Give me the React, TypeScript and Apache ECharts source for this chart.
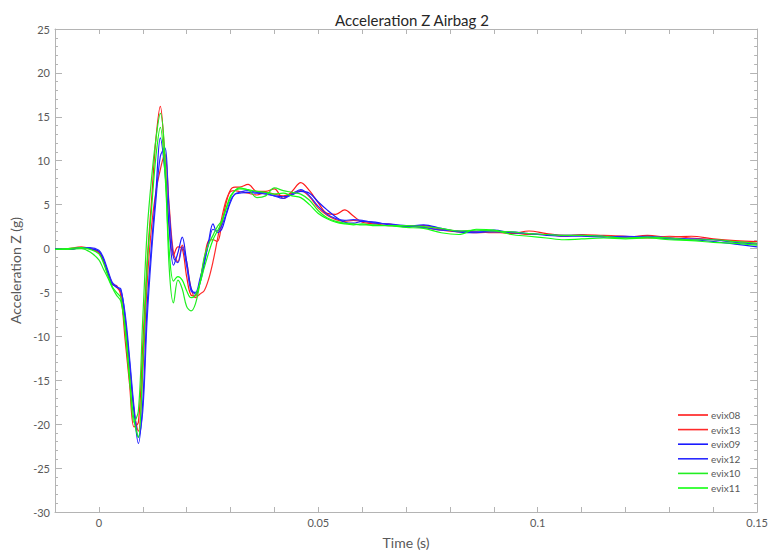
import React, { useEffect, useRef } from "react";
import * as echarts from "echarts";

const T = [-0.010, -0.007, -0.004, -0.002, 0.000, 0.001, 0.002, 0.003, 0.004, 0.005, 0.006, 0.007, 0.008, 0.009, 0.010, 0.011, 0.012, 0.013, 0.014, 0.015, 0.016, 0.017, 0.018, 0.019, 0.020, 0.021, 0.022, 0.023, 0.024, 0.025, 0.026, 0.027, 0.028, 0.029, 0.030, 0.031, 0.032, 0.034, 0.036, 0.038, 0.040, 0.042, 0.044, 0.046, 0.048, 0.050, 0.052, 0.054, 0.056, 0.058, 0.060, 0.063, 0.066, 0.070, 0.074, 0.078, 0.082, 0.086, 0.090, 0.094, 0.098, 0.102, 0.106, 0.110, 0.115, 0.120, 0.125, 0.130, 0.135, 0.140, 0.145, 0.150];

const evix08 = [-0.1, -0.1, 0.1, 0.0, -0.5, -1.4, -2.9, -4.1, -4.2, -5.4, -10.5, -15.5, -20.3, -19.8, -11, -1.5, 5.5, 12.5, 16.2, 10.5, 2.5, -0.8, 0.2, 0.0, -3.2, -5.3, -5.4, -3.8, -1.2, 0.9, 1.0, 0.8, 2.8, 5.2, 6.7, 7.0, 7.0, 7.3, 6.5, 6.5, 6.8, 5.7, 6.5, 7.5, 6.6, 5.2, 4.0, 3.9, 4.4, 3.7, 3.0, 2.8, 2.6, 2.6, 2.4, 2.1, 1.9, 1.8, 1.9, 1.7, 2.0, 1.7, 1.5, 1.5, 1.4, 1.3, 1.5, 1.3, 1.4, 1.1, 0.9, 0.8];
const evix13 = [-0.1, 0.0, 0.2, 0.0, -0.4, -1.2, -2.6, -3.9, -4.4, -5.0, -8.5, -13.5, -18.5, -20.8, -14, -4, 2.5, 6.5, 9.0, 10.8, 5.0, -0.5, -1.5, 0.4, -1.5, -4.5, -5.6, -5.2, -4.8, -3.5, -1.5, 1.0, 3.5, 5.5, 6.5, 6.6, 6.5, 6.3, 6.1, 6.4, 6.2, 6.0, 6.3, 6.6, 5.9, 4.6, 3.8, 3.3, 3.1, 3.2, 3.1, 2.9, 2.8, 2.5, 2.6, 2.2, 2.0, 1.9, 1.8, 1.8, 1.6, 1.6, 1.4, 1.6, 1.5, 1.4, 1.2, 1.4, 1.2, 1.0, 0.8, 0.6];
const evix09 = [-0.1, -0.1, 0.1, 0.0, -0.3, -1.2, -2.7, -4.0, -4.4, -4.6, -8.0, -13.0, -18.5, -22.2, -17.5, -6.5, 0.5, 6.5, 12.6, 9.0, 2.5, -1.9, -0.5, 1.3, -1.5, -4.5, -5.2, -4.0, -1.8, 0.8, 2.8, 1.8, 2.2, 3.8, 5.3, 6.2, 6.3, 6.4, 6.3, 6.2, 6.0, 5.9, 6.1, 6.5, 6.3, 5.3, 4.4, 3.6, 3.0, 2.9, 3.1, 3.0, 2.7, 2.5, 2.7, 2.3, 1.9, 1.8, 2.1, 1.8, 1.7, 1.5, 1.4, 1.4, 1.3, 1.4, 1.3, 1.1, 1.0, 0.8, 0.5, 0.2];
const evix12 = [0.0, -0.1, 0.1, 0.1, -0.2, -1.0, -2.4, -3.8, -4.3, -4.8, -7.5, -12.5, -18.0, -21.5, -18.5, -8.0, -0.5, 5.5, 10.5, 11.5, 4.5, -1.0, -1.6, 0.2, -2.0, -4.8, -5.0, -3.5, -1.5, 0.5, 2.2, 2.0, 2.6, 4.0, 5.5, 6.2, 6.4, 6.6, 6.4, 6.3, 6.0, 5.7, 6.2, 6.7, 6.0, 4.8, 3.9, 3.4, 3.2, 3.3, 3.2, 2.9, 2.8, 2.6, 2.4, 2.1, 2.0, 1.9, 1.9, 1.9, 1.7, 1.6, 1.5, 1.5, 1.4, 1.3, 1.4, 1.2, 1.1, 1.0, 0.7, 0.5];
const evix10 = [-0.1, -0.1, 0.0, -0.4, -1.3, -2.3, -3.3, -4.4, -5.3, -6.0, -9.0, -14.5, -19.8, -18.5, -8.0, 2.0, 8.0, 12.5, 15.4, 11.0, -2.0, -6.2, -3.6, -4.6, -6.6, -7.1, -6.3, -4.0, -1.0, 0.5, 1.5, 2.5, 3.2, 4.5, 5.8, 6.6, 6.8, 6.7, 5.8, 6.0, 6.9, 6.6, 6.4, 6.2, 5.5, 4.3, 3.5, 3.1, 2.9, 2.8, 2.7, 2.7, 2.6, 2.6, 2.5, 2.3, 2.0, 2.1, 2.0, 1.9, 1.7, 1.6, 1.5, 1.5, 1.4, 1.2, 1.3, 1.2, 1.0, 1.0, 0.8, 0.6];
const evix11 = [-0.1, 0.0, 0.1, -0.1, -0.6, -1.6, -3.0, -4.3, -5.0, -5.6, -9.5, -15.0, -19.5, -21.5, -13.0, -2.0, 4.5, 10.5, 13.8, 9.0, 0.0, -3.7, -3.2, -3.6, -4.8, -5.6, -5.3, -4.0, -2.2, -0.5, 1.0, 2.0, 3.0, 4.6, 6.0, 6.6, 6.9, 6.7, 6.5, 6.4, 6.2, 6.3, 6.0, 5.8, 5.0, 4.0, 3.4, 3.0, 2.8, 2.7, 2.8, 2.6, 2.6, 2.4, 2.3, 1.8, 1.6, 2.2, 2.1, 1.6, 1.4, 1.2, 1.0, 1.1, 1.2, 1.1, 1.2, 1.0, 0.9, 0.7, 0.6, 0.4];

const SERIES_NAMES = ["evix08", "evix13", "evix09", "evix12", "evix10", "evix11"];
const SERIES_VALUES = [evix08, evix13, evix09, evix12, evix10, evix11];
const SERIES_COLORS = ["#ff1a1a", "#ff2a2a", "#1a1aff", "#2a2aff", "#22ee22", "#11ff11"];

const X_MIN = -0.01;
const X_MAX = 0.15;
const Y_MIN = -30;
const Y_MAX = 25;

const FONT = "Lato, 'Open Sans', sans-serif";
const FRAME = "#b4b4b4";
const LABEL = "#595959";

export default function App() {
  const ref = useRef<HTMLDivElement>(null);
  useEffect(() => {
    document.body.style.margin = "0";
    const chart = echarts.init(ref.current!, null, { renderer: "svg" });
    const xLabel = (v: number) => {
      const r = Math.round(v * 100);
      if (r < 0 || r % 5 !== 0) return "";
      return String(parseFloat(v.toFixed(2)));
    };
    const commonX = {
      type: "value",
      min: X_MIN,
      max: X_MAX,
      interval: 0.01,
      axisLine: { show: true, onZero: false, lineStyle: { color: FRAME, width: 1 } },
      axisTick: { show: true, inside: true, length: 5, lineStyle: { color: FRAME } },
      splitLine: { show: false },
    };
    const commonY = {
      type: "value",
      min: Y_MIN,
      max: Y_MAX,
      interval: 5,
      axisLine: { show: true, onZero: false, lineStyle: { color: FRAME, width: 1 } },
      axisTick: { show: true, inside: true, length: 7, lineStyle: { color: FRAME } },
      minorTick: { show: true, splitNumber: 5, length: 3, lineStyle: { color: FRAME } },
      splitLine: { show: false },
    };
    chart.setOption({
      animation: false,
      backgroundColor: "#ffffff",
      title: {
        text: "Acceleration Z Airbag 2",
        left: 407,
        textAlign: "center",
        top: 7,
        textStyle: { fontFamily: FONT, fontSize: 15, fontWeight: "normal", color: "#262626" },
      },
      grid: { left: 55, right: 13, top: 29, bottom: 41, containLabel: false },
      legend: {
        orient: "vertical",
        left: 678,
        top: 409,
        padding: 0,
        itemGap: 2.6,
        itemWidth: 30,
        itemHeight: 1.6,
        icon: "rect",
        data: SERIES_NAMES,
        textStyle: { fontFamily: FONT, fontSize: 10, color: LABEL, lineHeight: 12, padding: [0, 0, 0, -2] },
      },
      xAxis: [
        {
          ...commonX,
          position: "bottom",
          name: "Time (s)",
          nameLocation: "middle",
          nameGap: 23,
          nameTextStyle: { fontFamily: FONT, fontSize: 14, color: LABEL },
          axisLabel: { formatter: xLabel, fontFamily: FONT, fontSize: 11, color: LABEL, margin: 5 },
        },
        { ...commonX, position: "top", axisLabel: { show: false } },
      ],
      yAxis: [
        {
          ...commonY,
          position: "left",
          name: "Acceleration Z (g)",
          nameLocation: "middle",
          nameGap: 33,
          nameTextStyle: { fontFamily: FONT, fontSize: 14, color: LABEL },
          axisLabel: { fontFamily: FONT, fontSize: 11, color: LABEL, margin: 5 },
        },
        { ...commonY, position: "right", axisLabel: { show: false } },
      ],
      series: SERIES_NAMES.map((name, i) => ({
        name,
        type: "line",
        xAxisIndex: 0,
        yAxisIndex: 0,
        showSymbol: false,
        smooth: 0.35,
        color: SERIES_COLORS[i],
        lineStyle: { width: 1.2, color: SERIES_COLORS[i] },
        data: T.map((t, j) => [t, SERIES_VALUES[i][j]]),
      })),
    });
    return () => chart.dispose();
  }, []);
  return <div ref={ref} style={{ width: 771, height: 554, position: "absolute", left: 0, top: 0 }} />;
}
